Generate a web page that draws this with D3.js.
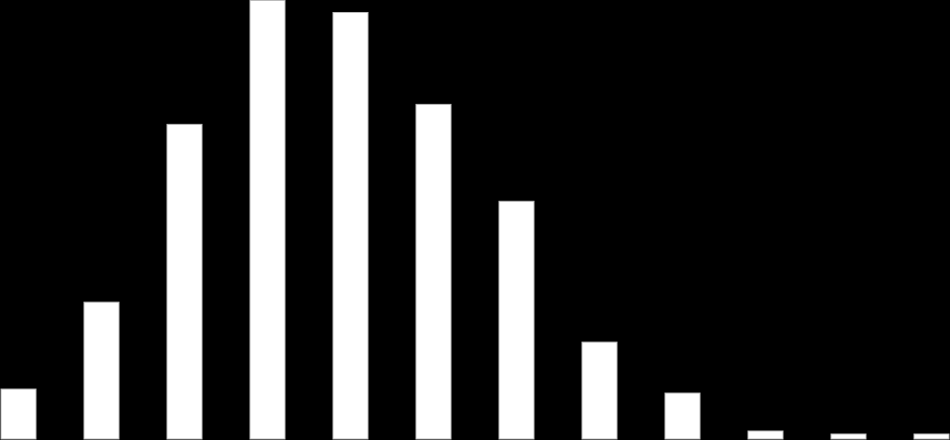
<!DOCTYPE html>
<html>
<head>
<meta charset="utf-8">
<script src="https://cdn.jsdelivr.net/npm/d3@7"></script>
<style>
  html, body { margin: 0; padding: 0; background: #000; }
  svg { display: block; }
</style>
</head>
<body>
<svg id="chart" width="950" height="440"></svg>
<script>
const categories = ["1", "2", "3", "4", "5", "6", "7", "8", "9", "10", "11", "12"];
const values = [50, 137, 315, 439, 427, 335, 238, 97, 46, 8, 5, 5];

const W = 950, H = 440;
const svg = d3.select("#chart");
svg.append("rect").attr("width", W).attr("height", H).attr("fill", "#000");

const x = d3.scaleBand()
  .domain(categories)
  .range([1, 949])
  .paddingInner(0.5783)
  .paddingOuter(0);

const y = d3.scaleLinear()
  .domain([0, 439])
  .range([439, 0.5]);

svg.append("g")
  .selectAll("rect")
  .data(categories.map((c, i) => ({ c, v: values[i] })))
  .join("rect")
  .attr("x", d => x(d.c))
  .attr("y", d => y(d.v))
  .attr("width", x.bandwidth())
  .attr("height", d => y(0) - y(d.v))
  .attr("fill", "#fff")
  .attr("stroke", "#bbb")
  .attr("stroke-width", 1);
</script>
</body>
</html>
